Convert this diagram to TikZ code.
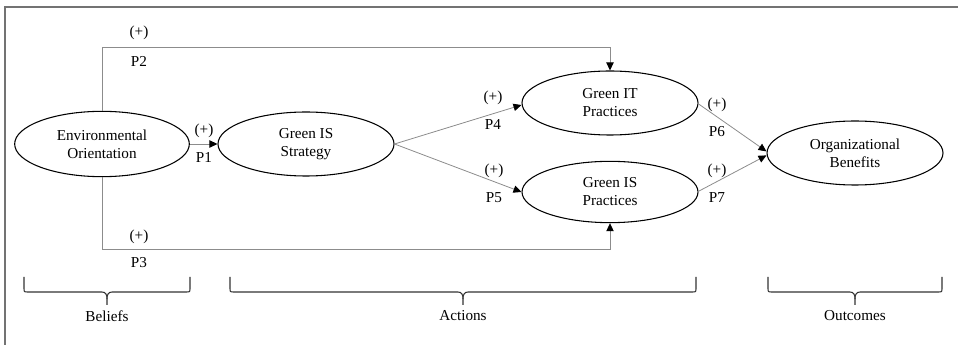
\documentclass[tikz,border=0pt]{standalone}
\usepackage{fontspec}
\setmainfont{Liberation Serif}
\usetikzlibrary{shapes.geometric,arrows.meta}
\newcommand\mybrace[3]{%
  \draw[bracestyle] (#1,277) -- (#1,288) .. controls (#1,292) .. (#1+4,292) -- (#3-5,292) .. controls (#3-1,292) and (#3,295) .. (#3,299) -- (#3,305);
  \draw[bracestyle] (#2,277) -- (#2,288) .. controls (#2,292) .. (#2-4,292) -- (#3+5,292) .. controls (#3+1,292) and (#3,295) .. (#3,299);
}
\begin{document}
\begin{tikzpicture}[x=0.75pt,y=-0.75pt,
  font=\fontsize{11.4}{13.5}\selectfont,
  construct/.style={ellipse,draw=black,line width=0.8pt,inner sep=0pt,align=center,minimum width=132pt,minimum height=48pt},
  link/.style={draw=black!45,line width=0.6pt,-{Triangle[length=6pt,width=5.5pt,color=black]}},
  lbl/.style={inner sep=0pt},
  bracestyle/.style={draw=black!80,line width=0.8pt},
  frame/.style={draw=black!55,line width=1.4pt}]
\useasboundingbox (0,0) rectangle (958,345);
\draw[frame] (5,345) -- (5,7) -- (958,7);

\node[construct,minimum width=131pt,minimum height=49pt] (eo) at (102,144) {Environmental\\Orientation};
\node[construct] (gis) at (306,144) {Green IS\\Strategy};
\node[construct] (git) at (610,103) {Green IT\\Practices};
\node[construct,minimum height=46pt] (gisp) at (610,192) {Green IS\\Practices};
\node[construct] (org) at (855,153) {Organizational\\Benefits};

\coordinate (c2) at (610,47);
\coordinate (c3) at (610,249);

\draw[link] (eo.east) -- (gis.west);
\draw[link] (eo.north) |- (c2) -- (git.north);
\draw[link] (eo.south) |- (c3) -- (gisp.south);
\draw[link] (gis.east) -- ([yshift=-1.5pt]git.west);
\draw[link] (gis.east) -- (gisp.west);
\draw[link] ([xshift=-1pt]git.east) -- ([yshift=1.2pt]org.west);
\draw[link] ([xshift=-1pt]gisp.east) -- ([yshift=-1.8pt]org.west);

\node[lbl] (l1a) at (204,131) {(+)};
\node[lbl] (l1b) at (204,157) {P1};
\node[lbl] (l2a) at (139,33) {(+)};
\node[lbl] (l2b) at (139,61) {P2};
\node[lbl] (l3a) at (139,237) {(+)};
\node[lbl] (l3b) at (139,263) {P3};
\node[lbl] (l4a) at (493,98) {(+)};
\node[lbl] (l4b) at (493,125) {P4};
\node[lbl] (l5a) at (494,171) {(+)};
\node[lbl] (l5b) at (494,198) {P5};
\node[lbl] (l6a) at (717,105) {(+)};
\node[lbl] (l6b) at (717,132) {P6};
\node[lbl] (l7a) at (717,171) {(+)};
\node[lbl] (l7b) at (717,198) {P7};

\mybrace{24}{190}{107}
\mybrace{230}{696}{463}
\mybrace{768}{942}{855}

\node[lbl] (beliefs) at (107,316) {Beliefs};
\node[lbl] (actions) at (463,316) {Actions};
\node[lbl] (outcomes) at (855,316) {Outcomes};
\end{tikzpicture}
\end{document}
